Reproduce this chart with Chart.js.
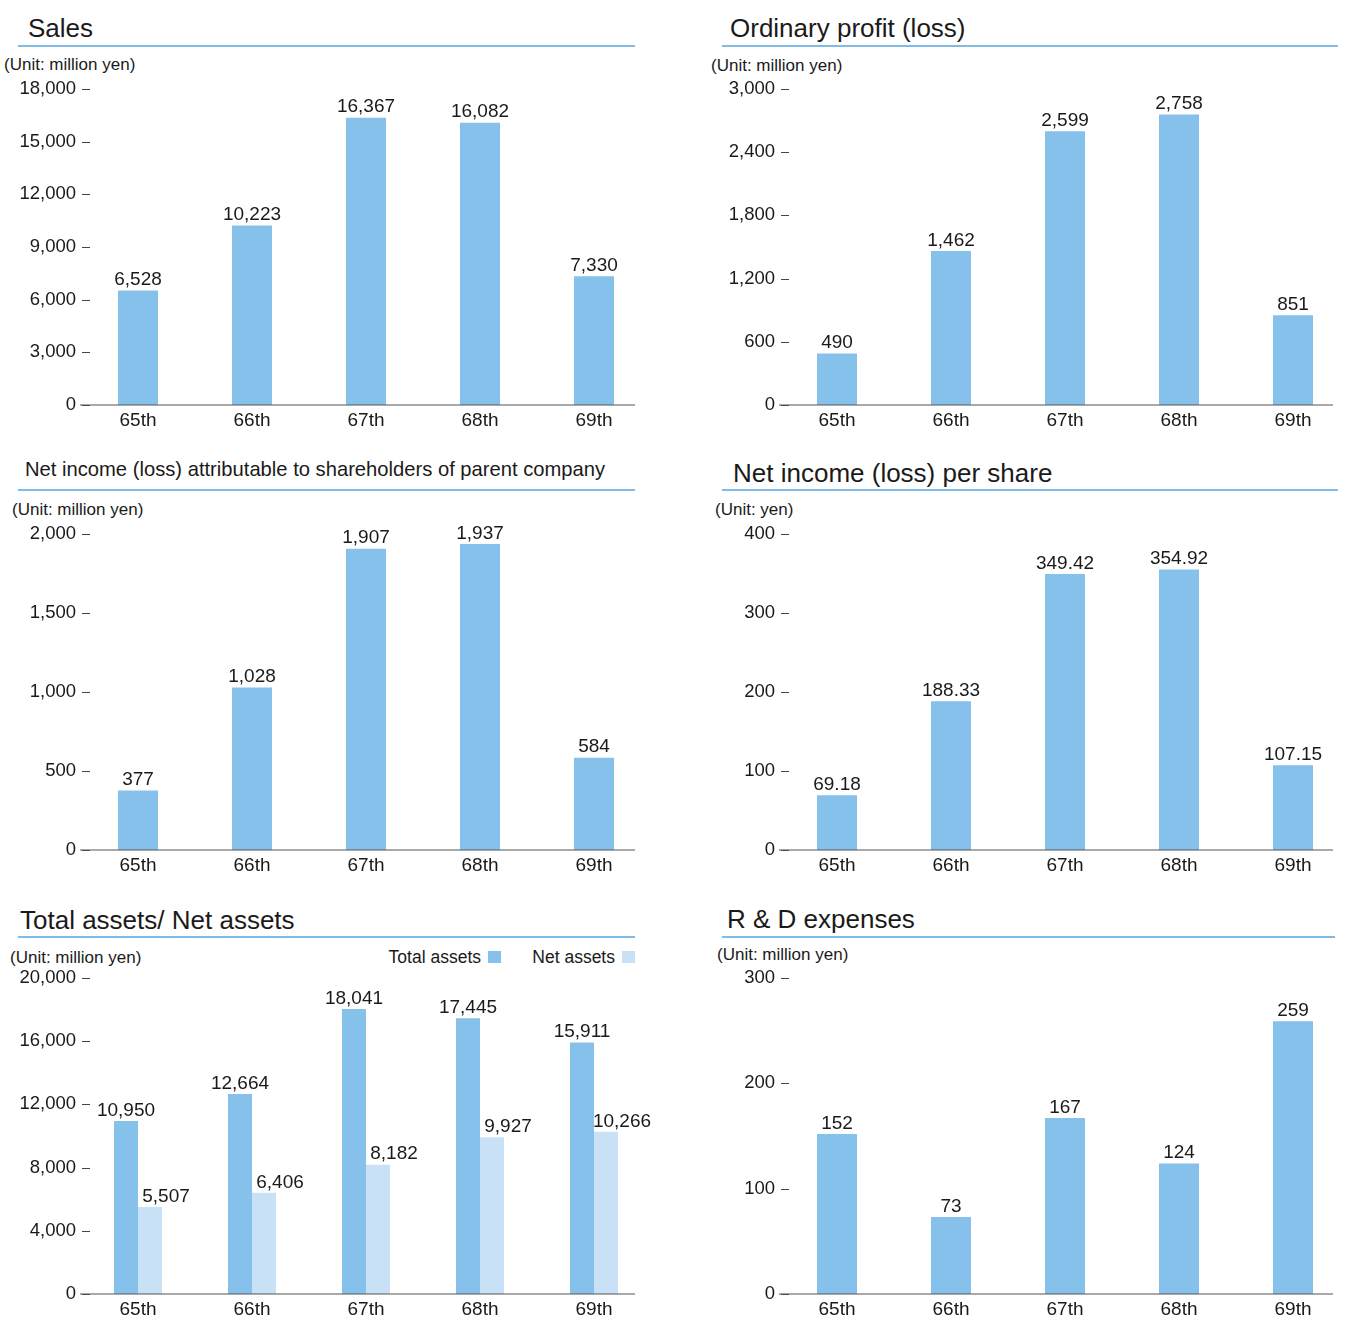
<!DOCTYPE html>
<html>
<head>
<meta charset="utf-8">
<script src="https://cdn.jsdelivr.net/npm/chart.js@4"></script>
<style>
  body { margin: 0; background: #fff; width: 1350px; height: 1341px; position: relative; overflow: hidden;
         font-family: "Liberation Sans", Arial, sans-serif; color: #1a1a1a; }
  .title { position: absolute; line-height: 1; white-space: nowrap; }
  .rule { position: absolute; height: 1.6px; background: #7fbbe6; }
  .unit { position: absolute; font-size: 17px; line-height: 1; white-space: nowrap; }
  .legend { position: absolute; font-size: 17.5px; line-height: 1; white-space: nowrap; }
  .swatch { position: absolute; width: 13px; height: 12px; }
  canvas { position: absolute; }
</style>
</head>
<body>
<div class="title" style="left:28px;top:15px;font-size:26px">Sales</div>
<div class="rule" style="left:18px;top:45px;width:617px"></div>
<div class="unit" style="left:4px;top:56px">(Unit: million yen)</div>

<div class="title" style="left:730px;top:15px;font-size:26px">Ordinary profit (loss)</div>
<div class="rule" style="left:722px;top:45px;width:616px"></div>
<div class="unit" style="left:711px;top:57px">(Unit: million yen)</div>

<div class="title" style="left:25px;top:459px;font-size:20.2px">Net income (loss) attributable to shareholders of parent company</div>
<div class="rule" style="left:18px;top:489px;width:617px"></div>
<div class="unit" style="left:12px;top:501px">(Unit: million yen)</div>

<div class="title" style="left:733px;top:460px;font-size:26px">Net income (loss) per share</div>
<div class="rule" style="left:722px;top:489px;width:616px"></div>
<div class="unit" style="left:715px;top:501px">(Unit: yen)</div>

<div class="title" style="left:20px;top:907px;font-size:26px">Total assets/ Net assets</div>
<div class="rule" style="left:18px;top:936px;width:617px"></div>
<div class="unit" style="left:10px;top:949px">(Unit: million yen)</div>
<div class="legend" id="leg1" style="right:869px;top:949px"></div>
<div class="swatch" style="left:488px;top:951px;background:#85c1eb"></div>
<div class="legend" id="leg2" style="right:735px;top:949px"></div>
<div class="swatch" style="left:622px;top:951px;background:#c9e1f6"></div>

<div class="title" style="left:727px;top:906px;font-size:26px">R &amp; D expenses</div>
<div class="rule" style="left:722px;top:936px;width:613px"></div>
<div class="unit" style="left:717px;top:946px">(Unit: million yen)</div>

<canvas id="salesChart"></canvas>
<canvas id="profitChart"></canvas>
<canvas id="netIncomeChart"></canvas>
<canvas id="epsChart"></canvas>
<canvas id="assetsChart"></canvas>
<canvas id="rndChart"></canvas>

<script>
// Fiscal periods
const periods = ['65th', '66th', '67th', '68th', '69th'];

// Series values
const sales = [6528, 10223, 16367, 16082, 7330];
const ordinaryProfit = [490, 1462, 2599, 2758, 851];
const netIncome = [377, 1028, 1907, 1937, 584];
const netIncomePerShare = [69.18, 188.33, 349.42, 354.92, 107.15];
const totalAssets = [10950, 12664, 18041, 17445, 15911];
const netAssets = [5507, 6406, 8182, 9927, 10266];
const rndExpenses = [152, 73, 167, 124, 259];

// Axis ranges [max, step]
const salesAxis = [18000, 3000];
const profitAxis = [3000, 600];
const netIncomeAxis = [2000, 500];
const epsAxis = [400, 100];
const assetsAxis = [20000, 4000];
const rndAxis = [300, 100];

const seriesNames = ['Total assets', 'Net assets'];

document.getElementById('leg1').textContent = seriesNames[0];
document.getElementById('leg2').textContent = seriesNames[1];

const DARK = '#85c1eb';
const LIGHT = '#c9e1f6';
const TEXT = '#1a1a1a';
const FONT = '"Liberation Sans", Arial, sans-serif';
const PAD_TOP = 22;

const fmtInt = v => Number(v).toLocaleString('en-US');
const fmt2 = v => Number(v).toFixed(2);

// tick dashes, baseline and value labels
const decorations = {
    id: 'decorations',
    afterDatasetsDraw(chart, args, opts) {
        const ctx = chart.ctx;
        const area = chart.chartArea;
        const y = chart.scales.y;
        ctx.save();
        ctx.strokeStyle = '#444';
        ctx.lineWidth = 1;
        y.ticks.forEach(t => {
            const py = Math.round(y.getPixelForValue(t.value)) + 0.5;
            ctx.beginPath();
            ctx.moveTo(area.left + 1, py);
            ctx.lineTo(area.left + 9, py);
            ctx.stroke();
        });
        ctx.strokeStyle = '#555';
        ctx.lineWidth = 1.2;
        ctx.beginPath();
        ctx.moveTo(area.left - 1, area.bottom);
        ctx.lineTo(opts.axisEnd, area.bottom);
        ctx.stroke();

        ctx.fillStyle = TEXT;
        ctx.font = '19px ' + FONT;
        ctx.textAlign = 'center';
        ctx.textBaseline = 'bottom';
        chart.data.datasets.forEach((ds, i) => {
            const meta = chart.getDatasetMeta(i);
            const dx = (opts.dx || [])[i] || 0;
            meta.data.forEach((bar, j) => {
                ctx.fillText(opts.fmt(ds.data[j]), bar.x + dx, bar.y - 1);
            });
        });
        ctx.restore();
    }
};

function makeChart(id, box, datasets, axis, fmt, dx) {
    const el = document.getElementById(id);
    el.style.left = box.left + 'px';
    el.style.top = box.top + 'px';
    el.style.width = box.width + 'px';
    el.style.height = box.height + 'px';
    el.width = box.width;
    el.height = box.height;
    const two = datasets.length > 1;
    return new Chart(el, {
        type: 'bar',
        data: {
            labels: periods,
            datasets: datasets.map(d => ({
                data: d.data,
                backgroundColor: d.color,
                borderWidth: 0,
                barPercentage: two ? 1 : 0.351,
                categoryPercentage: two ? 0.421 : 1
            }))
        },
        options: {
            responsive: false,
            animation: false,
            devicePixelRatio: 1,
            layout: { padding: { top: PAD_TOP, right: 0, bottom: 0, left: 0 } },
            scales: {
                x: {
                    grid: { display: false, drawTicks: false },
                    border: { display: false },
                    ticks: { color: TEXT, font: { family: FONT, size: 19 }, padding: 4 },
                    afterFit: s => { s.height = 30; }
                },
                y: {
                    min: 0,
                    max: axis[0],
                    grid: { display: false, drawTicks: false },
                    border: { display: false },
                    ticks: {
                        stepSize: axis[1],
                        color: TEXT,
                        font: { family: FONT, size: 18.5 },
                        padding: 5,
                        callback: v => fmtInt(v)
                    },
                    afterFit: s => { s.width = box.plotLeft - box.left; }
                }
            },
            plugins: {
                legend: { display: false },
                tooltip: { enabled: false },
                decorations: { fmt: fmt, dx: dx, axisEnd: box.axisEnd - box.left }
            }
        },
        plugins: [decorations]
    });
}

// top = y of the highest tick, bottom = y of the baseline (+1 to land on the reference pixel rows)
const leftCol = (top, bottom) => ({ left: 0, top: top + 1 - PAD_TOP, width: 651, height: bottom - top + PAD_TOP + 30, plotLeft: 81, axisEnd: 635 });
const rightCol = (top, bottom) => ({ left: 675, top: top + 1 - PAD_TOP, width: 675, height: bottom - top + PAD_TOP + 30, plotLeft: 780, axisEnd: 1333 });

makeChart('salesChart', leftCol(88, 404), [{ data: sales, color: DARK }], salesAxis, fmtInt);
makeChart('profitChart', rightCol(88, 404), [{ data: ordinaryProfit, color: DARK }], profitAxis, fmtInt);
makeChart('netIncomeChart', leftCol(533, 849), [{ data: netIncome, color: DARK }], netIncomeAxis, fmtInt);
makeChart('epsChart', rightCol(533, 849), [{ data: netIncomePerShare, color: DARK }], epsAxis, fmt2);
makeChart('assetsChart', leftCol(977, 1293), [
    { data: totalAssets, color: DARK },
    { data: netAssets, color: LIGHT }
], assetsAxis, fmtInt, [0, 16]);
makeChart('rndChart', rightCol(977, 1293), [{ data: rndExpenses, color: DARK }], rndAxis, fmtInt);
</script>
</body>
</html>
